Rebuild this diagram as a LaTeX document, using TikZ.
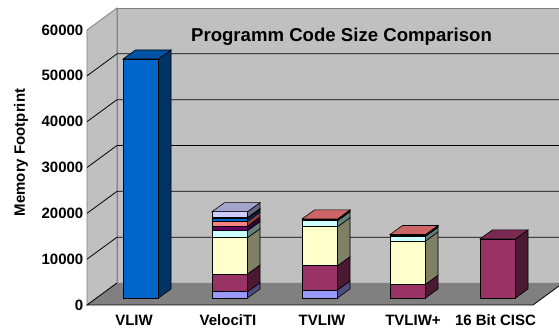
\documentclass[tikz,border=0pt]{standalone}
\usepackage{fontspec}
\setmainfont{Liberation Sans}
\usepackage{tikz}
\definecolor{wallgray}{HTML}{C0C0C0}
\definecolor{floorgray}{HTML}{808080}
\definecolor{lavblue}{HTML}{9999FF}
\definecolor{plum}{HTML}{993366}
\definecolor{ivory}{HTML}{FFFFCC}
\definecolor{icecyan}{HTML}{CCFFFF}
\definecolor{darkplum}{HTML}{660066}
\definecolor{coral}{HTML}{FF8080}
\definecolor{oceanblue}{HTML}{0066CC}
\definecolor{navyblue}{HTML}{000080}
\definecolor{paleblue}{HTML}{CCCCFF}
% one piece of a bar: left x, from, to (x1000), colour
\newcommand{\barseg}[4]{%
	\filldraw[barline, fill=#4] ({#1}, {31+4.5833*#2}) rectangle ({#1+35.5}, {31+4.5833*#3});
	\filldraw[barline, fill=#4!50!black] ({#1+35.5}, {31+4.5833*#2}) -- ++(12.5,9)
		-- ({#1+48}, {40+4.5833*#3}) -- ({#1+35.5}, {31+4.5833*#3}) -- cycle;
}
% top face of a bar: left x, height (x1000), colour
\newcommand{\bartop}[3]{%
	\filldraw[barline, fill=#3!80!black] ({#1}, {31+4.5833*#2}) -- ++(12.5,9) -- ++(35.5,0) -- ++(-12.5,-9) -- cycle;
}
\tikzset{
	barline/.style={draw=black, line width=0.6pt},
	gridline/.style={draw=black, line width=0.8pt},
	wall/.style={fill=wallgray, draw=floorgray, line width=0.8pt},
	ticklabel/.style={anchor=east, inner sep=0pt, font=\fontsize{15}{18}\selectfont\bfseries},
	catlabel/.style={anchor=base, inner sep=0pt, font=\fontsize{15}{18}\selectfont\bfseries},
}

\begin{document}
\begin{tikzpicture}[x=1pt, y=1pt]
			\useasboundingbox (0,0) rectangle (559,329);
			\clip (0,0) rectangle (559,329);
			% walls and floor
			\filldraw[wall] (117, 46) rectangle (563, 321);
			\filldraw[wall] (87, 24) -- (87, 299) -- (117, 321) -- (117, 46) -- cycle;
			\fill[floorgray] (87, 24) -- (533, 24) -- (563, 46) -- (117, 46) -- cycle;
			\draw[gridline] (117, 46) -- (87, 24) -- (533, 24) -- (563, 46);
			\foreach \k in {1,...,5}
				\draw[gridline] (87, {24+45.833*\k}) -- ++(30,22) -- (563, {46+45.833*\k});
			%
			\foreach \k/\v in {0/0, 1/10000, 2/20000, 3/30000, 4/40000, 5/50000, 6/60000}
				\node[ticklabel] (t\k) at (83.5, {24+45.833*\k}) {\v};
			%
			\node[font=\fontsize{15}{18}\selectfont\bfseries, rotate=90] (ytitle) at (21, 176.5) {Memory Footprint};
			\node[anchor=base, inner sep=0pt, font=\fontsize{18.6}{22}\selectfont\bfseries] (title) at (341.5, 287.3) {Programm Code Size Comparison};
			%
			% VLIW
			\barseg{123}{0}{52.15}{oceanblue}
			\bartop{123}{52.15}{oceanblue}
			% VelociTI
			\barseg{212}{0}{1.37}{lavblue}
			\barseg{212}{1.37}{5.24}{plum}
			\barseg{212}{5.24}{13.16}{ivory}
			\barseg{212}{13.16}{14.68}{icecyan}
			\barseg{212}{14.68}{15.68}{darkplum}
			\barseg{212}{15.68}{16.75}{coral}
			\barseg{212}{16.75}{17.3}{oceanblue}
			\barseg{212}{17.3}{17.55}{navyblue}
			\barseg{212}{17.55}{18.83}{paleblue}
			\bartop{212}{18.83}{paleblue}
			% TVLIW
			\barseg{302}{0}{1.75}{lavblue}
			\barseg{302}{1.75}{7.05}{plum}
			\barseg{302}{7.05}{15.55}{ivory}
			\barseg{302}{15.55}{16.85}{icecyan}
			\barseg{302}{16.85}{17.15}{darkplum}
			\barseg{302}{17.15}{17.25}{coral}
			\bartop{302}{17.25}{coral}
			% TVLIW+
			\barseg{390}{0}{3.0}{plum}
			\barseg{390}{3.0}{12.45}{ivory}
			\barseg{390}{12.45}{13.45}{icecyan}
			\barseg{390}{13.45}{13.75}{darkplum}
			\barseg{390}{13.75}{13.85}{coral}
			\bartop{390}{13.85}{coral}
			% 16 Bit CISC
			\barseg{480}{0}{12.9}{plum}
			\bartop{480}{12.9}{plum}
			%
			\node[catlabel] (vliw)	at (134, 3.3)	{VLIW};
			\node[catlabel] (velo)	at (228, 3.3)	{VelociTI};
			\node[catlabel] (tvliw)	at (322, 3.3)	{TVLIW};
			\node[catlabel] (tvlp)	at (413, 3.3)	{TVLIW+};
			\node[catlabel] (cisc)	at (495.5, 3.3)	{16 Bit CISC};
\end{tikzpicture}
\end{document}
